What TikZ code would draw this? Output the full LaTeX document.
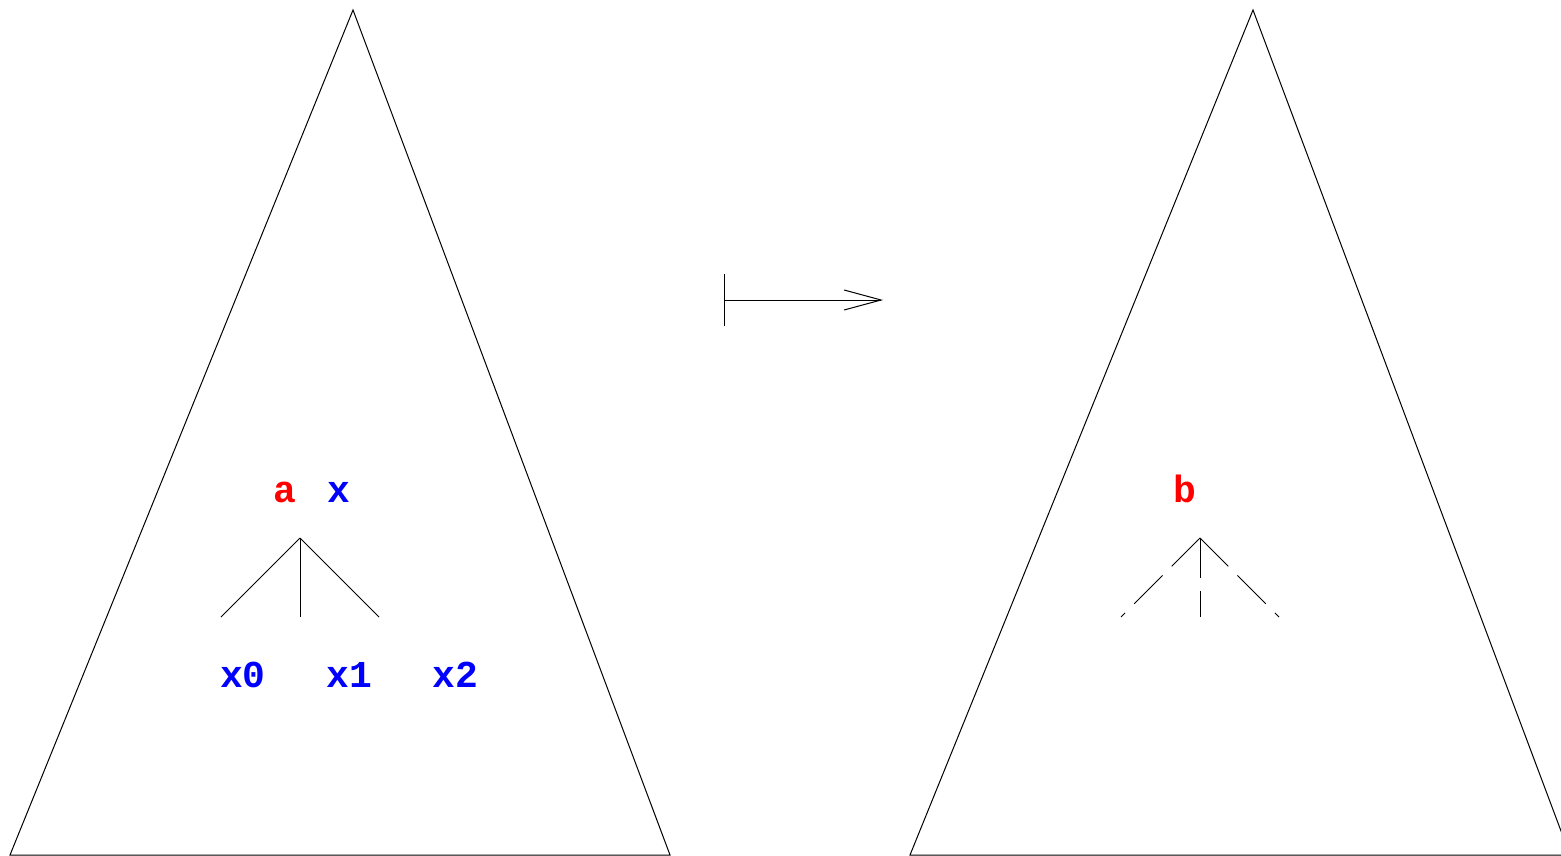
\documentclass[tikz,border=0pt]{standalone}
\usepackage{fontspec}
\setmonofont{Liberation Mono}
\usetikzlibrary{arrows.meta}
\tikzset{
  lbl/.style={font=\ttfamily\bfseries\fontsize{38}{40}\selectfont, inner sep=0pt, anchor=base},
  redlbl/.style={lbl, text={rgb,255:red,255;green,0;blue,0}},
  bluelbl/.style={lbl, text={rgb,255:red,0;green,0;blue,255}},
  edge/.style={line width=1pt},
  dedge/.style={line width=1pt, dash pattern=on 40pt off 13pt},
}
\begin{document}
\begin{tikzpicture}[x=1pt,y=-1pt]
\useasboundingbox (0,0) rectangle (1561,856);
\clip (0,0) rectangle (1561,856);
% triangles
\draw[edge] (353,10) -- (10,855) -- (670,855) -- cycle;
\draw[edge] (1253,10) -- (910,855) -- (1570,855) -- cycle;
% left tree
\node[redlbl] (a) at (285,502) {a};
\node[bluelbl] (x) at (339,502) {x};
\coordinate (t) at (300,538);
\coordinate (l) at (221,617);
\coordinate (m) at (300,617);
\coordinate (r) at (379,617);
\draw[edge] (t) -- (l);
\draw[edge] (t) -- (m);
\draw[edge] (t) -- (r);
\node[bluelbl] (x0) at (243,687) {x0};
\node[bluelbl] (x1) at (349,687) {x1};
\node[bluelbl] (x2) at (455,687) {x2};
% right tree
\node[redlbl] (b) at (1185,502) {b};
\coordinate (t2) at (1200,538);
\coordinate (l2) at (1121,617);
\coordinate (m2) at (1200,617);
\coordinate (r2) at (1279,617);
\draw[dedge] (t2) -- (l2);
\draw[dedge] (t2) -- (m2);
\draw[dedge] (t2) -- (r2);
% maps-to arrow
\coordinate (s) at (724,300);
\coordinate (e) at (883,300);
\draw[edge, {Bar[width=52pt]}-{Straight Barb[length=37pt,width=20pt]}] (s) -- (e);
\end{tikzpicture}
\end{document}
